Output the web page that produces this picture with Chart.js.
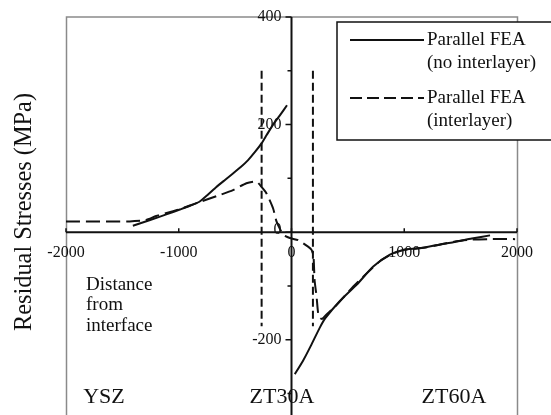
<!DOCTYPE html>
<html>
<head>
<meta charset="utf-8">
<script src="https://cdn.jsdelivr.net/npm/chart.js@4.4.1/dist/chart.umd.min.js"></script>
<style>
  html, body { margin: 0; padding: 0; background: #fff; }
  canvas { display: block; }
</style>
</head>
<body>
<canvas id="chart" width="551" height="415"></canvas>
<script>
// values (x: distance from interface, y: MPa)
const noLayerX = [-1407, -1260, -1110, -990, -900, -814, -740, -666, -590, -519, -450, -385, -320, -266,
                  -222, -163, -100, -40,
                  null,
                  29, 100, 170, 250, 300, 429, 577, 725, 873, 991, 1139, 1318, 1435, 1600, 1761];
const noLayerY = [12, 22, 33, 42, 49, 57, 70, 84, 97, 109, 121, 134, 150, 165,
                  180, 200, 218, 236,
                  null,
                  -264, -240, -212, -178, -160, -128, -98, -64, -42, -33, -30, -23, -19, -12, -6];

const layerX = [-2000, -1435, -1300, -1200, -1100, -1000, -814, -650, -519, -400, -311, -266, -222,
                -163, -133, -100, -75, -15, 59, 147, 178, 195, 205, 222, 236, 255, 275, 311, 370,
                450, 548, 650, 784, 900, 1000, 1200, 1465, 1600, 1750, 1983];
const layerY = [20, 20, 22, 30, 36, 42, 56, 68, 78, 91, 94, 84, 72,
                44, 20, 5, -5, -11, -15, -27, -33, -45, -90, -119, -150, -160, -161, -153, -142,
                -124, -101, -80, -54, -40, -33, -28, -17, -14, -13, -13];

const boundaryX = [-265, 190];
const boundaryY = [300, -175];

const xTicks = [-2000, -1000, 0, 1000, 2000];
const yTicks = [400, 300, 200, 100, 0, -100, -200, -300];
const yLabels = [400, 200, 0, -200];

const SERIF = '"Liberation Serif", "Times New Roman", serif';

function pts(xs, ys) {
  return xs.map((x, i) => ({ x: x, y: ys[i] }));
}

const boundarySets = boundaryX.map(bx => ({
  data: pts([bx, bx], boundaryY),
  showLine: true,
  borderColor: '#111',
  borderWidth: 2,
  borderDash: [8, 4],
  pointRadius: 0
}));

const decor = {
  id: 'decor',
  beforeDatasetsDraw(chart) {
    const { ctx, chartArea: a, scales: { x, y } } = chart;
    const x0 = x.getPixelForValue(0);
    const y0 = y.getPixelForValue(0);
    ctx.save();
    // gray frame
    ctx.strokeStyle = '#8a8a8a';
    ctx.lineWidth = 1.5;
    ctx.strokeRect(a.left + 0.5, y.getPixelForValue(400), a.right - a.left, a.bottom + 10);

    // axes
    ctx.strokeStyle = '#111';
    ctx.lineWidth = 2;
    ctx.beginPath();
    ctx.moveTo(a.left, y0); ctx.lineTo(a.right, y0);
    ctx.moveTo(x0, y.getPixelForValue(400)); ctx.lineTo(x0, a.bottom);
    ctx.stroke();

    ctx.lineWidth = 1.5;
    ctx.beginPath();
    xTicks.forEach(v => {
      const px = x.getPixelForValue(v);
      ctx.moveTo(px, y0); ctx.lineTo(px, y0 - 4);
    });
    yTicks.forEach(v => {
      const py = y.getPixelForValue(v);
      ctx.moveTo(x0, py); ctx.lineTo(x0 - (v % 200 === 0 ? 6 : 4), py);
    });
    ctx.stroke();

    ctx.fillStyle = '#111';
    ctx.font = '16px ' + SERIF;
    ctx.textAlign = 'center';
    ctx.textBaseline = 'middle';
    xTicks.forEach(v => ctx.fillText(String(v), x.getPixelForValue(v), y0 + 21));
    ctx.textAlign = 'right';
    yLabels.forEach(v => ctx.fillText(String(v), x0 - 10, y.getPixelForValue(v) - (v === 0 ? 2 : 0)));
    ctx.restore();
  },
  afterDatasetsDraw(chart) {
    const { ctx } = chart;
    ctx.save();
    ctx.fillStyle = '#111';
    ctx.textBaseline = 'middle';

    // y axis title
    ctx.save();
    ctx.translate(24, 212);
    ctx.rotate(-Math.PI / 2);
    ctx.font = '26px ' + SERIF;
    const title = 'Residual Stresses (MPa)';
    const w = ctx.measureText(title).width;
    ctx.scale(238 / w, 1);
    ctx.textAlign = 'center';
    ctx.fillText(title, 0, 0);
    ctx.restore();

    // annotations
    ctx.textAlign = 'left';
    ctx.font = '19px ' + SERIF;
    ['Distance', 'from', 'interface'].forEach((t, i) => ctx.fillText(t, 86, 285 + i * 20.5));
    ctx.font = '22px ' + SERIF;
    ctx.textAlign = 'center';
    ctx.fillText('YSZ', 104, 397);
    ctx.fillText('ZT30A', 282, 397);
    ctx.fillText('ZT60A', 454, 397);

    // legend
    ctx.fillStyle = '#fff';
    ctx.fillRect(337, 22, 230, 118);
    ctx.strokeStyle = '#111';
    ctx.lineWidth = 1.5;
    ctx.strokeRect(337, 22, 230, 118);
    ctx.lineWidth = 2;
    ctx.beginPath();
    ctx.moveTo(350, 40); ctx.lineTo(424, 40);
    ctx.stroke();
    ctx.setLineDash([12, 5]);
    ctx.beginPath();
    ctx.moveTo(350, 98); ctx.lineTo(424, 98);
    ctx.stroke();
    ctx.setLineDash([]);
    ctx.fillStyle = '#111';
    ctx.textAlign = 'left';
    ctx.font = '19px ' + SERIF;
    ctx.fillText('Parallel FEA', 427, 40);
    ctx.fillText('(no interlayer)', 427, 63);
    ctx.fillText('Parallel FEA', 427, 98);
    ctx.fillText('(interlayer)', 427, 121);
    ctx.restore();
  }
};

new Chart(document.getElementById('chart'), {
  type: 'scatter',
  data: {
    datasets: [
      {
        data: pts(noLayerX, noLayerY),
        showLine: true,
        spanGaps: false,
        borderColor: '#111',
        borderWidth: 2,
        pointRadius: 0,
        tension: 0.2
      },
      {
        data: pts(layerX, layerY),
        showLine: true,
        borderColor: '#111',
        borderWidth: 2,
        borderDash: [14, 6],
        pointRadius: 0,
        tension: 0.2
      },
      ...boundarySets
    ]
  },
  plugins: [decor],
  options: {
    responsive: false,
    animation: false,
    layout: { padding: { left: 66, right: 34, top: 17, bottom: 0 } },
    plugins: { legend: { display: false }, tooltip: { enabled: false } },
    scales: {
      x: { type: 'linear', display: false, min: -2000, max: 2000 },
      y: { type: 'linear', display: false, min: -340, max: 400 }
    }
  }
});
</script>
</body>
</html>
